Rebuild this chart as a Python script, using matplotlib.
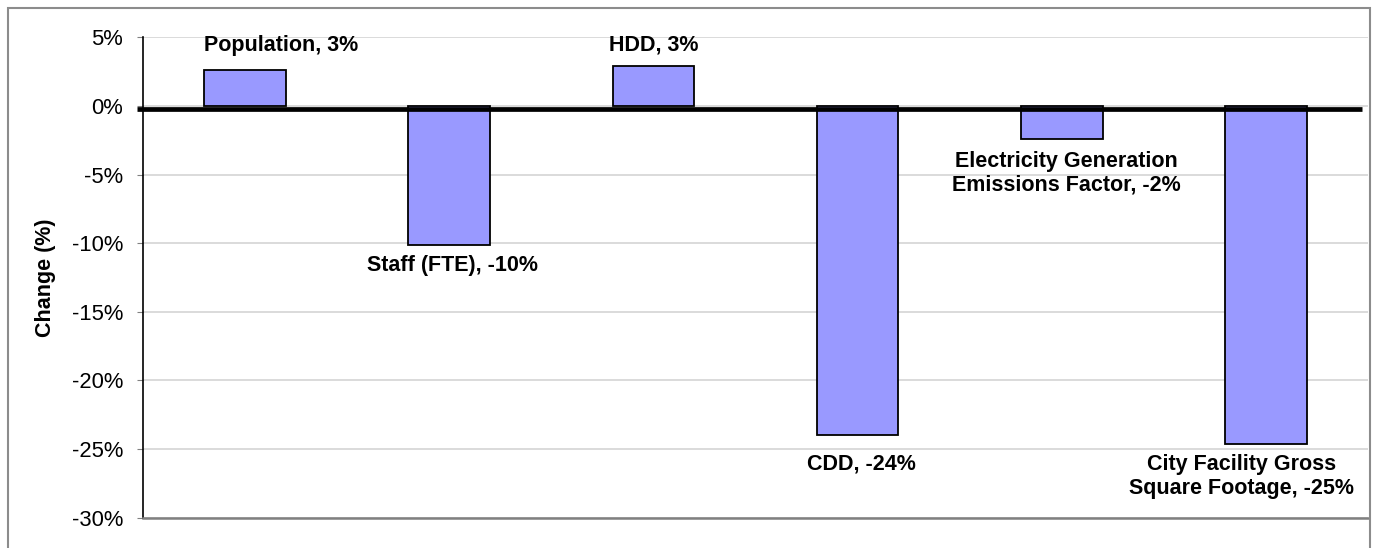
import matplotlib
matplotlib.use("Agg")
import matplotlib.pyplot as plt
from matplotlib.patches import Rectangle
import matplotlib.transforms as mtransforms

plt.rcParams['font.family'] = ['Liberation Sans', 'DejaVu Sans']

# Percent change in each emissions driver
categories = ["Population", "Staff (FTE)", "HDD", "CDD",
              "Electricity Generation\nEmissions Factor",
              "City Facility Gross\nSquare Footage"]
changes = [2.6, -10.1, 2.9, -24.0, -2.4, -24.6]
yticks = [5, 0, -5, -10, -15, -20, -25, -30]

# label placement (pixel offsets from each bar's end)
label_dx = [36, 3, 0, 4, 5, -24]
label_dy = [25, -21, 21, -29, -34, -33]

DPI = 100
fig = plt.figure(figsize=(13.74, 5.48), dpi=DPI)
ax = fig.add_axes([143 / 1374, 30.4 / 548, 1225 / 1374, (517.6 - 37.4) / 548])

x = list(range(len(categories)))
ax.bar(x, changes, width=0.4, color="#9999FF", edgecolor="black",
       linewidth=1.3, zorder=3)

ax.set_xlim(-0.5, len(categories) - 0.5)
ax.set_ylim(-30, 5)
ax.set_yticks(yticks)
ax.set_yticklabels([f"{t}%" for t in yticks], fontsize=15.8)
ax.set_xticks([])
ax.yaxis.grid(True, color="#d4d4d4", linewidth=1.2, zorder=0)
ax.set_axisbelow(True)
ax.tick_params(axis="y", length=4.5, width=0.8, color="#808080", pad=9.9)

for s in ("top", "right"):
    ax.spines[s].set_visible(False)
ax.spines["left"].set_color("black")
ax.spines["left"].set_linewidth(1.2)
ax.spines["bottom"].set_color("#808080")
ax.spines["bottom"].set_linewidth(1.8)

# heavy zero line
shift = mtransforms.offset_copy(ax.get_yaxis_transform(), fig=fig,
                                x=0, y=-2.5, units="dots")
ax.plot([-0.005, 0.995], [0, 0], color="black", linewidth=3.4,
        transform=shift, clip_on=False, zorder=4, solid_capstyle="butt")

ax.set_ylabel("Change (%)", fontsize=15.5, fontweight="bold")
ax.yaxis.set_label_coords(-0.0714, 0.5)

for i, (name, val) in enumerate(zip(categories, changes)):
    ax.annotate(f"{name}, {val:.0f}%", xy=(i, val),
                xytext=(label_dx[i] * 72 / DPI, label_dy[i] * 72 / DPI),
                textcoords="offset points", ha="center", va="center",
                fontsize=15.5, fontweight="bold", zorder=5,
                linespacing=1.15)

# chart frame
fig.patches.append(Rectangle((8 / 1374, -0.1), (1370 - 8) / 1374,
                             (548 - 8) / 548 + 0.1,
                             transform=fig.transFigure, fill=False,
                             edgecolor="#8c8c8c", linewidth=1.5))

fig.savefig("out.png", dpi=DPI)
